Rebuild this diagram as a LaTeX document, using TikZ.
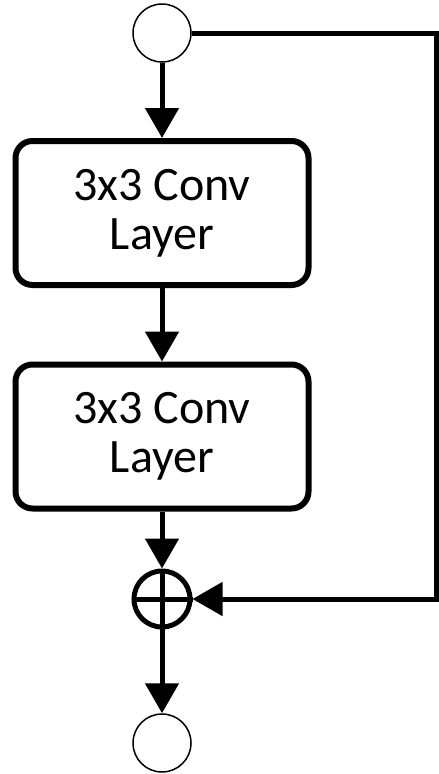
\documentclass[tikz,border=0pt]{standalone}
\usepackage{fontspec}
\setmainfont{Carlito}
\usetikzlibrary{arrows.meta}

\tikzset{
    port/.style={circle, draw, line width=1.5pt, minimum size=58pt, inner sep=0pt},
    layerbox/.style={draw, rounded corners=17pt, line width=6pt, minimum width=293pt,
        minimum height=144pt, align=center, font=\fontsize{48}{49}\selectfont},
    sumnode/.style={circle, draw, line width=5pt, minimum size=56pt, inner sep=0pt},
    conn/.style={line width=5pt, -{Triangle[length=30pt, width=33pt]}},
}

\begin{document}
\begin{tikzpicture}[x=1pt, y=-1pt]
    \useasboundingbox (0,0) rectangle (439,774);
    % input, two conv layers, sum, output
    \node[port] (in) at (162,33) {};
    \node[layerbox] (conv1) at (162,213) {3x3 Conv\\Layer};
    \node[layerbox] (conv2) at (162,436.5) {3x3 Conv\\Layer};
    \node[sumnode] (add) at (162,599) {};
    \node[port] (out) at (162,743) {};
    % plus sign inside the sum node
    \draw[line width=5pt] (add.north) -- (add.south);
    \draw[line width=5pt] (add.west) -- (add.east);
    % main path
    \draw[conn] (in) -- (conv1);
    \draw[conn] (conv1) -- (conv2);
    \draw[conn] (conv2) -- (add);
    \draw[conn] (add) -- (out);
    % skip connection
    \coordinate (skipTop) at (436.5,33);
    \coordinate (skipBot) at (436.5,599);
    \draw[conn] (in.east) -- (skipTop) -- (skipBot) -- (add.east);
\end{tikzpicture}
\end{document}
